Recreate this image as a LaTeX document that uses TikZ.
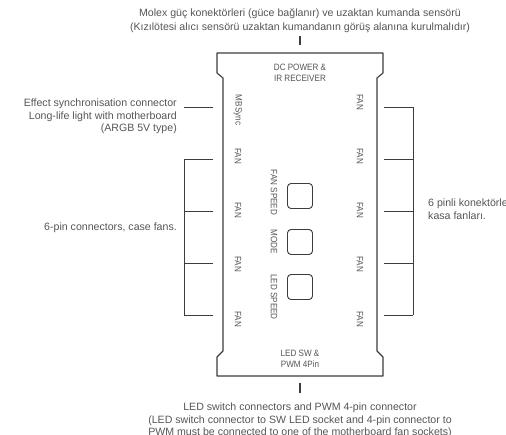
\documentclass[tikz,border=0pt]{standalone}
\usepackage{fontspec}
\setmainfont{Liberation Sans}
\newfontfamily\dinfont[FakeStretch=0.88]{Liberation Sans}
\definecolor{txt}{HTML}{555555}
\definecolor{ln}{HTML}{3C3C3C}
\tikzset{
  x=1pt,y=-1pt,
  note/.style={text=txt,font=\fontsize{10.6}{12.6}\selectfont,inner sep=0pt,align=center},
  noteL/.style={note,align=right,anchor=east},
  noteR/.style={note,align=left,anchor=west},
  lab/.style={text=txt,font=\dinfont\fontsize{9.2}{11.5}\selectfont,inner sep=0pt,align=center},
  vlab/.style={lab,rotate=-90},
  wire/.style={draw=ln,line width=0.9pt},
  board/.style={draw=ln,line width=1.1pt,line join=round},
  btn/.style={draw=ln,line width=0.9pt,rounded corners=3.5pt,minimum size=25pt,inner sep=0pt}
}
\begin{document}
\begin{tikzpicture}
\useasboundingbox (0,0) rectangle (506,435);
% board
\draw[board] (217,53) -- (383,53) -- (383,73) -- (377,78) -- (377,351) -- (383,357) -- (383,376)
  -- (217,376) -- (217,357) -- (223,351) -- (223,78) -- (217,73) -- cycle;
% top / bottom ticks
\coordinate (t1) at (300,36); \coordinate (t2) at (300,45);
\coordinate (b1) at (300,383); \coordinate (b2) at (300,393);
\draw[wire,line width=1.1pt] (t1) -- (t2);
\draw[wire,line width=1.1pt] (b1) -- (b2);
% left stubs
\coordinate (mb1) at (184,107); \coordinate (mb2) at (213,107);
\draw[wire] (mb1) -- (mb2);
\foreach \n/\y in {a/159,b/211,c/263,d/315}{
  \coordinate (l\n1) at (184,\y); \coordinate (l\n2) at (213,\y);
  \draw[wire] (l\n1) -- (l\n2);
}
\draw[wire,line cap=rect] (la1) -- (ld1);
% right stubs
\foreach \n/\y in {a/107,b/159,c/211,d/263,e/315}{
  \coordinate (r\n1) at (383.5,\y); \coordinate (r\n2) at (413,\y);
  \draw[wire] (r\n1) -- (r\n2);
}
\draw[wire,line cap=rect] (ra2) -- (re2);
% buttons
\node[btn] (b1n) at (300,196) {};
\node[btn] (b2n) at (300,242) {};
\node[btn] (b3n) at (300,287) {};
% board labels
\node[lab] (dc) at (300,73) {DC POWER \&\\IR RECEIVER};
\node[lab] (led) at (300,359) {LED SW \&\\PWM 4Pin};
\node[vlab] (mbs) at (238,110) {MBSync};
\node[vlab] (f1) at (238,156) {FAN};
\node[vlab] (f2) at (238,210) {FAN};
\node[vlab] (f3) at (238,264) {FAN};
\node[vlab] (f4) at (238,319) {FAN};
\node[vlab] (f5) at (360,102) {FAN};
\node[vlab] (f6) at (360,156) {FAN};
\node[vlab] (f7) at (360,210) {FAN};
\node[vlab] (f8) at (360,264) {FAN};
\node[vlab] (f9) at (360,319) {FAN};
\node[vlab] (fs) at (274,192.5) {FAN SPEED};
\node[vlab] (md) at (274,242) {MODE};
\node[vlab] (ls) at (274,297) {LED SPEED};
% notes
\node[note,font=\fontsize{10.6}{13.6}\selectfont] (top) at (300,20.5) {Molex güç konektörleri (güce bağlanır) ve uzaktan kumanda sensörü\\(Kızılötesi alıcı sensörü uzaktan kumandanın görüş alanına kurulmalıdır)};
\node[noteL] (eff) at (177,116.5) {Effect synchronisation connector\\Long-life light with motherboard\\(ARGB 5V type)};
\node[noteL] (six) at (177,228) {6-pin connectors, case fans.};
\node[noteR] (tr) at (428,209) {6 pinli konektörle\\kasa fanları.};
\node[note] (bot) at (300,420.5) {LED switch connectors and PWM 4-pin connector\\(LED switch connector to SW LED socket and 4-pin connector to\\PWM must be connected to one of the motherboard fan sockets)};
\end{tikzpicture}
\end{document}
